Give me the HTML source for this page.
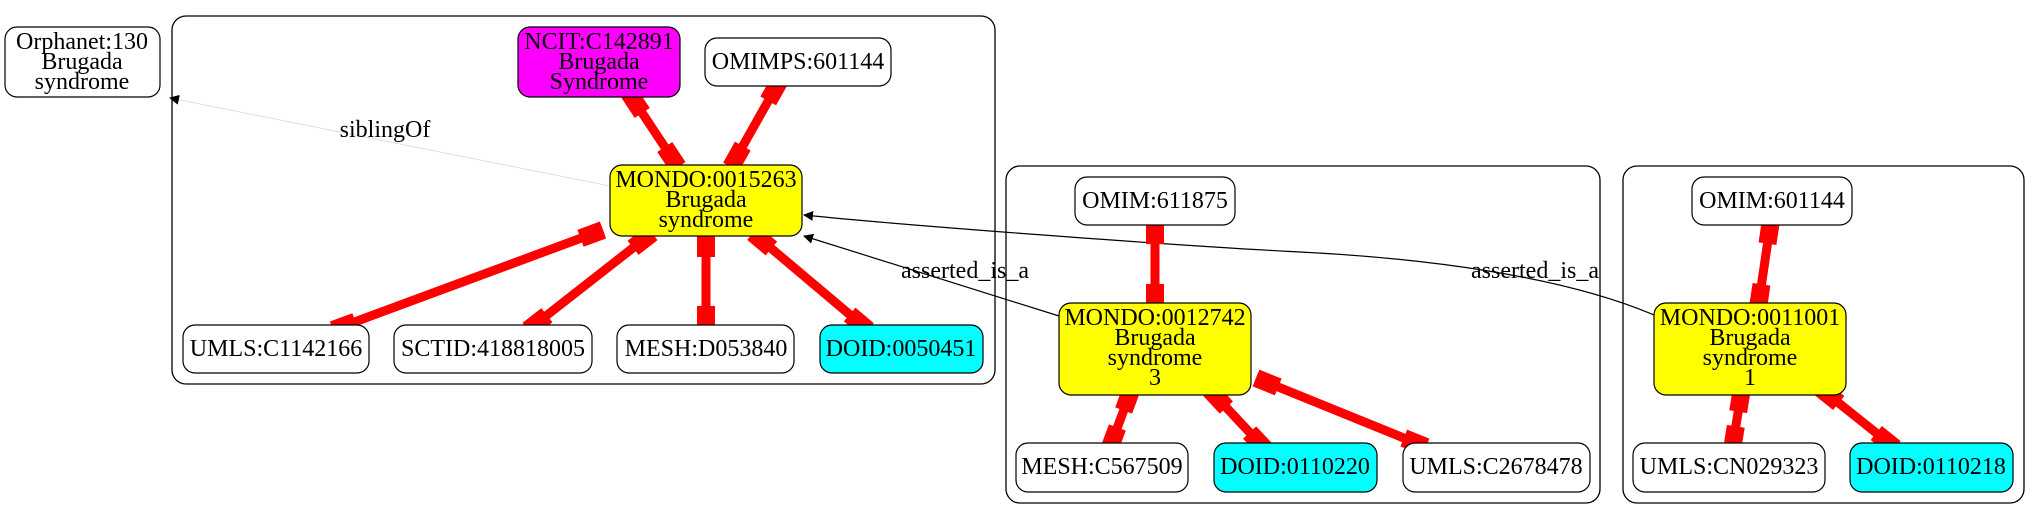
<!DOCTYPE html>
<html><head><meta charset="utf-8"><style>
html,body{margin:0;padding:0;background:#fff}
svg{display:block}
text{font-family:"Liberation Serif",serif;font-size:24px;text-anchor:middle;fill:#000}
</style></head><body>
<svg id="s" width="2037" height="519" viewBox="0 0 2037 519" xmlns="http://www.w3.org/2000/svg">
<defs>
<marker id="ab" markerWidth="10" markerHeight="10" refX="9" refY="5" orient="auto" markerUnits="userSpaceOnUse"><path d="M0,0 L10,5 L0,10 z" fill="#000"/></marker>
</defs>
<rect x="172" y="16" width="823" height="368" rx="14" fill="none" stroke="#000" stroke-width="1.3"/>
<rect x="1006" y="166" width="594" height="337" rx="14" fill="none" stroke="#000" stroke-width="1.3"/>
<rect x="1623" y="166" width="401" height="337" rx="14" fill="none" stroke="#000" stroke-width="1.3"/>
<path d="M610,186 L170,98" stroke="#ddd" stroke-width="1" fill="none" marker-end="url(#ab)"/>
<text x="385" y="137">siblingOf</text>
<path d="M1059,316 L804,236" stroke="#000" stroke-width="1.2" fill="none" marker-end="url(#ab)"/>
<text x="965" y="278">asserted_is_a</text>
<path d="M1654,315 C1560,275 1420,258 1300,252 S900,225 804,215" stroke="#000" stroke-width="1.2" fill="none" marker-end="url(#ab)"/>
<text x="1535" y="278">asserted_is_a</text>
<g id="red"></g>
<g stroke="#000" stroke-width="1.2">
<rect x="5" y="27" width="155" height="70" rx="12" fill="#fff"/>
<rect x="518" y="27" width="162" height="70" rx="12" fill="#f0f"/>
<rect x="705" y="38" width="186" height="48" rx="12" fill="#fff"/>
<rect x="610" y="165" width="192" height="71" rx="12" fill="#ff0"/>
<rect x="183" y="325" width="186" height="48" rx="12" fill="#fff"/>
<rect x="394" y="325" width="198" height="48" rx="12" fill="#fff"/>
<rect x="617" y="325" width="177" height="48" rx="12" fill="#fff"/>
<rect x="820" y="325" width="163" height="48" rx="12" fill="#0ff"/>
<rect x="1075" y="177" width="160" height="48" rx="12" fill="#fff"/>
<rect x="1059" y="303" width="192" height="92" rx="12" fill="#ff0"/>
<rect x="1016" y="443" width="172" height="49" rx="12" fill="#fff"/>
<rect x="1214" y="443" width="163" height="49" rx="12" fill="#0ff"/>
<rect x="1403" y="443" width="187" height="49" rx="12" fill="#fff"/>
<rect x="1692" y="177" width="160" height="48" rx="12" fill="#fff"/>
<rect x="1654" y="303" width="192" height="92" rx="12" fill="#ff0"/>
<rect x="1633" y="443" width="192" height="49" rx="12" fill="#fff"/>
<rect x="1850" y="443" width="163" height="49" rx="12" fill="#0ff"/>
</g>
<g>
<text x="82" y="49">Orphanet:130</text><text x="82" y="69">Brugada</text><text x="82" y="89">syndrome</text>
<text x="599" y="49">NCIT:C142891</text><text x="599" y="69">Brugada</text><text x="599" y="89">Syndrome</text>
<text x="798" y="69">OMIMPS:601144</text>
<text x="706" y="187">MONDO:0015263</text><text x="706" y="207">Brugada</text><text x="706" y="227">syndrome</text>
<text x="276" y="356">UMLS:C1142166</text>
<text x="493" y="356">SCTID:418818005</text>
<text x="706" y="356">MESH:D053840</text>
<text x="901" y="356">DOID:0050451</text>
<text x="1155" y="208">OMIM:611875</text>
<text x="1155" y="325">MONDO:0012742</text><text x="1155" y="345">Brugada</text><text x="1155" y="365">syndrome</text><text x="1155" y="385">3</text>
<text x="1102" y="474">MESH:C567509</text>
<text x="1295" y="474">DOID:0110220</text>
<text x="1496" y="474">UMLS:C2678478</text>
<text x="1772" y="208">OMIM:601144</text>
<text x="1750" y="325">MONDO:0011001</text><text x="1750" y="345">Brugada</text><text x="1750" y="365">syndrome</text><text x="1750" y="385">1</text>
<text x="1729" y="474">UMLS:CN029323</text>
<text x="1931" y="474">DOID:0110218</text>
</g>
</svg>
<script>
var E=[[629,93,678,167],[780,80,731,167],[603,230,333,330],[652,233,528,330],[706,233,706,330],[753,233,868,330],
[1155,220,1155,308],[1132,388,1109,450],[1210,390,1266,450],[1256,378,1426,447],[1771,220,1758,308],[1742,388,1732,450],[1820,388,1895,448]];
var g=document.getElementById('red'),h='';
E.forEach(function(e){
 var dx=e[2]-e[0],dy=e[3]-e[1],a=Math.atan2(dy,dx)*180/Math.PI;
 h+='<line x1="'+e[0]+'" y1="'+e[1]+'" x2="'+e[2]+'" y2="'+e[3]+'" stroke="#f00" stroke-width="9"/>';
 h+='<g transform="translate('+e[0]+','+e[1]+') rotate('+a+')"><polygon points="0,-9 24,-9 24,9 0,9" fill="#f00"/></g>';
 h+='<g transform="translate('+e[2]+','+e[3]+') rotate('+a+')"><polygon points="0,-9 -24,-9 -24,9 0,9" fill="#f00"/></g>';
});
g.innerHTML=h;
</script>
</body></html>
